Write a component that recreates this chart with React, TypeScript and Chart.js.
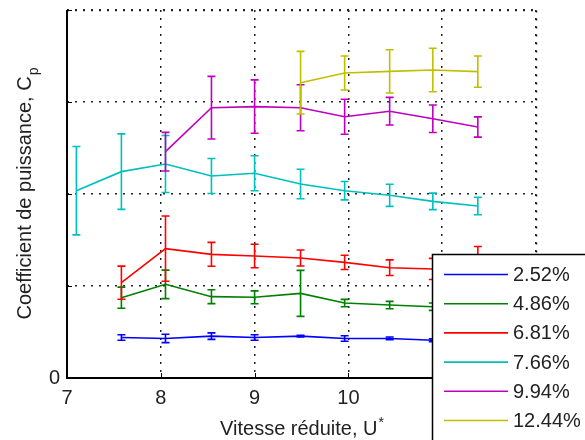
import React, { useEffect, useRef } from "react";
import { Chart, registerables } from "chart.js";

Chart.register(...registerables);

const xValues = [7.1, 7.58, 8.05, 8.54, 9.0, 9.49, 9.96, 10.44, 10.9, 11.38];
const seriesLabels = ["2.52%", "4.86%", "6.81%", "7.66%", "9.94%", "12.44%"];
const seriesColors = ["#0000ff", "#008000", "#ff0000", "#00bfbf", "#bf00bf", "#bfbf00"];

const cp252 = [null, 0.044, 0.043, 0.0455, 0.044, 0.0455, 0.043, 0.043, 0.041, 0.04];
const err252 = [null, 0.003, 0.0045, 0.0035, 0.003, 0.001, 0.003, 0.0015, 0.0015, 0.0015];
const cp486 = [null, 0.0873, 0.1018, 0.0884, 0.0877, 0.092, 0.0815, 0.0793, 0.0775, 0.076];
const err486 = [null, 0.0115, 0.0155, 0.0076, 0.007, 0.025, 0.004, 0.004, 0.004, 0.004];
const cp681 = [null, 0.1036, 0.1406, 0.1344, 0.1326, 0.1304, 0.1257, 0.1199, 0.1185, 0.118];
const err681 = [null, 0.018, 0.0355, 0.013, 0.0127, 0.0087, 0.0078, 0.0085, 0.0115, 0.025];
const cp766 = [0.2036, 0.2243, 0.2326, 0.2196, 0.2225, 0.2109, 0.2036, 0.1986, 0.192, 0.187];
const err766 = [0.048, 0.041, 0.031, 0.019, 0.019, 0.016, 0.01, 0.012, 0.009, 0.0095];
const cp994 = [null, null, 0.246, 0.2938, 0.295, 0.2938, 0.284, 0.29, 0.2818, 0.2728];
const err994 = [null, null, 0.021, 0.034, 0.029, 0.025, 0.019, 0.015, 0.015, 0.011];
const cp1244 = [null, null, null, null, null, 0.321, 0.3315, 0.3333, 0.3348, 0.333];
const err1244 = [null, null, null, null, null, 0.034, 0.0185, 0.0235, 0.0237, 0.017];

const seriesValues = [cp252, cp486, cp681, cp766, cp994, cp1244];
const seriesErrors = [err252, err486, err681, err766, err994, err1244];

const xMin = 7;
const xMax = 12;
const yMin = 0;
const yMax = 0.4;
const yStep = 0.1;

const xTitle = "Vitesse réduite, U";
const xTitleSup = "*";
const yTitle = "Coefficient de puissance, C";
const yTitleSub = "p";

const FONT = "'Liberation Sans', Arial, Helvetica, sans-serif";
const DOTS = [2, 6];
const GRID_COLOR = "#222";
const GRID_WIDTH = 1.5;

const errorBarPlugin = {
  id: "errorBars",
  afterDatasetsDraw(chart: any) {
    const ctx = chart.ctx;
    const xs = chart.scales.x;
    const ys = chart.scales.y;
    ctx.save();
    chart.data.datasets.forEach((ds: any) => {
      ctx.strokeStyle = ds.borderColor;
      ctx.lineWidth = 1.6;
      ds.data.forEach((p: any, j: number) => {
        const e = ds.errors[j];
        if (e == null) return;
        const px = xs.getPixelForValue(p.x);
        const top = ys.getPixelForValue(p.y + e);
        const bot = ys.getPixelForValue(p.y - e);
        ctx.beginPath();
        ctx.moveTo(px, top);
        ctx.lineTo(px, bot);
        ctx.moveTo(px - 4, top);
        ctx.lineTo(px + 4, top);
        ctx.moveTo(px - 4, bot);
        ctx.lineTo(px + 4, bot);
        ctx.stroke();
      });
    });
    ctx.restore();
  },
};

const decorPlugin = {
  id: "decor",
  beforeDatasetsDraw(chart: any) {
    const ctx = chart.ctx;
    const area = chart.chartArea;
    ctx.save();
    ctx.strokeStyle = GRID_COLOR;
    ctx.lineWidth = GRID_WIDTH;
    ctx.setLineDash(DOTS);
    const t = Math.round(area.top) + 0.5;
    const r = Math.round(area.right) + 0.5;
    ctx.beginPath();
    ctx.moveTo(area.left, t);
    ctx.lineTo(r, t);
    ctx.moveTo(r, t);
    ctx.lineTo(r, area.bottom);
    ctx.stroke();
    ctx.restore();
  },
  afterDraw(chart: any) {
    const ctx = chart.ctx;
    const area = chart.chartArea;
    const xs = chart.scales.x;
    const ys = chart.scales.y;
    ctx.save();
    // axes lines
    ctx.strokeStyle = "#000";
    ctx.lineWidth = 2;
    ctx.beginPath();
    ctx.moveTo(area.left, area.top);
    ctx.lineTo(area.left, area.bottom);
    ctx.lineTo(area.right, area.bottom);
    ctx.stroke();
    // inward ticks
    ctx.lineWidth = 1;
    ctx.beginPath();
    xs.ticks.forEach((tk: any) => {
      const px = Math.round(xs.getPixelForValue(tk.value)) + 0.5;
      ctx.moveTo(px, area.bottom);
      ctx.lineTo(px, area.bottom - 5);
    });
    ys.ticks.forEach((tk: any) => {
      const py = Math.round(ys.getPixelForValue(tk.value)) + 0.5;
      ctx.moveTo(area.left, py);
      ctx.lineTo(area.left + 5, py);
    });
    ctx.stroke();

    // x title
    ctx.fillStyle = "#222";
    ctx.textBaseline = "alphabetic";
    ctx.textAlign = "left";
    ctx.font = `20px ${FONT}`;
    const wMain = ctx.measureText(xTitle).width;
    ctx.font = `14px ${FONT}`;
    const wSup = ctx.measureText(xTitleSup).width;
    const cx = (area.left + area.right) / 2;
    const startX = cx - (wMain + wSup) / 2;
    ctx.font = `20px ${FONT}`;
    ctx.fillText(xTitle, startX, 435);
    ctx.font = `14px ${FONT}`;
    ctx.fillText(xTitleSup, startX + wMain + 1, 427);

    // y title (rotated)
    ctx.save();
    ctx.font = `20px ${FONT}`;
    const wy = ctx.measureText(yTitle).width;
    ctx.font = `14px ${FONT}`;
    const wys = ctx.measureText(yTitleSub).width;
    const cy = (area.top + area.bottom) / 2;
    ctx.translate(31, cy);
    ctx.rotate(-Math.PI / 2);
    const sx = -(wy + wys) / 2;
    ctx.font = `20px ${FONT}`;
    ctx.fillText(yTitle, sx, 0);
    ctx.font = `14px ${FONT}`;
    ctx.fillText(yTitleSub, sx + wy + 1, 7);
    ctx.restore();

    // legend box
    const lx = 432.5;
    const ly = 254.5;
    ctx.fillStyle = "#fff";
    ctx.fillRect(lx, ly, 200, 200);
    ctx.strokeStyle = "#000";
    ctx.lineWidth = 1.5;
    ctx.strokeRect(lx, ly, 200, 200);
    ctx.font = `20px ${FONT}`;
    ctx.textBaseline = "middle";
    chart.data.datasets.forEach((ds: any, i: number) => {
      const y = 274.5 + i * 29.2;
      ctx.strokeStyle = ds.borderColor;
      ctx.lineWidth = 1.6;
      ctx.beginPath();
      ctx.moveTo(444, y);
      ctx.lineTo(508, y);
      ctx.stroke();
      ctx.fillStyle = "#222";
      ctx.fillText(ds.label, 513, y + 1);
    });
    ctx.restore();
  },
};

export default function App() {
  const ref = useRef<HTMLCanvasElement | null>(null);
  useEffect(() => {
    document.body.style.margin = "0";
    const canvas = ref.current;
    if (!canvas) return;
    const datasets = seriesValues.map((vals, i) => {
      const data: { x: number; y: number }[] = [];
      const errors: number[] = [];
      vals.forEach((v, j) => {
        if (v == null) return;
        data.push({ x: xValues[j], y: v });
        errors.push(seriesErrors[i][j] as number);
      });
      return {
        label: seriesLabels[i],
        data,
        errors,
        borderColor: seriesColors[i],
        backgroundColor: seriesColors[i],
        borderWidth: 1.6,
        pointRadius: 0,
        tension: 0,
        fill: false,
      } as any;
    });
    const chart = new Chart(canvas, {
      type: "line",
      data: { datasets },
      options: {
        animation: false,
        responsive: false,
        layout: { padding: { left: 0, top: 10, right: 49, bottom: 0 } },
        plugins: { legend: { display: false }, tooltip: { enabled: false } },
        scales: {
          x: {
            type: "linear",
            min: xMin,
            max: xMax,
            ticks: {
              stepSize: 1,
              color: "#222",
              font: { family: FONT, size: 20 },
              padding: 8,
            },
            grid: { color: GRID_COLOR, lineWidth: GRID_WIDTH, drawTicks: false, tickLength: 0 },
            border: { display: false, dash: DOTS },
            afterFit: (s: any) => {
              s.height = 62;
              s.paddingLeft = 0;
              s.paddingRight = 0;
            },
          },
          y: {
            type: "linear",
            min: yMin,
            max: yMax,
            ticks: {
              stepSize: yStep,
              color: "#222",
              font: { family: FONT, size: 20 },
              padding: 7,
              callback: (v: any) => (Math.abs(Number(v)) < 1e-9 ? "0" : ""),
            },
            grid: { color: GRID_COLOR, lineWidth: GRID_WIDTH, drawTicks: false, tickLength: 0 },
            border: { display: false, dash: DOTS },
            afterFit: (s: any) => {
              s.width = 67;
              s.paddingTop = 0;
              s.paddingBottom = 0;
            },
          },
        },
      },
      plugins: [errorBarPlugin, decorPlugin],
    });
    return () => chart.destroy();
  }, []);
  return <canvas ref={ref} width={585} height={440} style={{ display: "block" }} />;
}
